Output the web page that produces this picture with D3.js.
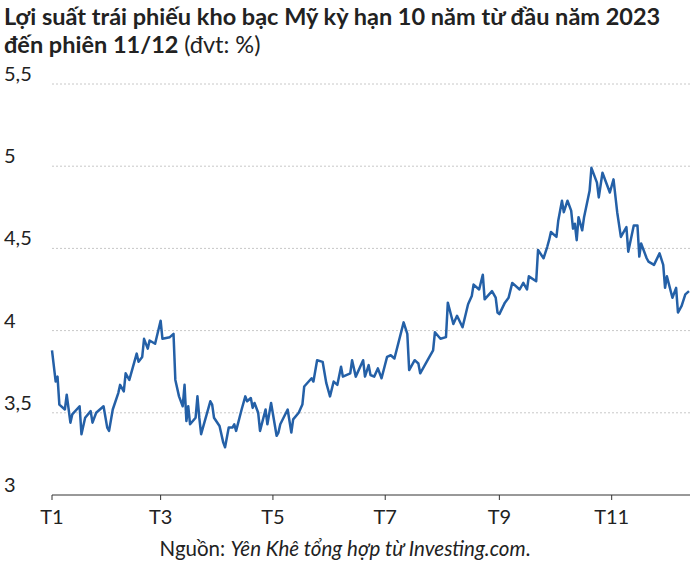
<!DOCTYPE html>
<html><head><meta charset="utf-8">
<script src="https://cdn.jsdelivr.net/npm/d3@7"></script>
<style>body{margin:0;background:#fff}text{font-family:Lato,"Noto Sans",sans-serif}</style>
</head><body>
<script>
// day of year 2023 (0 = Jan 1) and yield values
let days = [0,2,3,4,7,8,10,11,15,16,18,21,22,24,28,30,31,33,36,37,39,40,42,46,47,49,50,52,53,56,59,60,64,66,67,69,71,72,73,74,75,78,79,80,81,86,87,88,91,93,94,96,98,99,100,103,105,106,108,109,110,112,113,116,117,119,122,123,124,128,130,131,134,136,137,141,142,144,147,149,151,153,155,157,158,162,163,165,169,170,172,173,175,177,179,182,184,186,191,193,194,197,199,200,205,207,208,211,214,215,218,220,223,226,228,229,232,234,235,239,241,242,243,246,248,250,254,256,258,259,263,264,267,269,270,271,274,275,277,278,280,282,283,284,285,286,288,289,292,293,296,297,299,303,305,307,309,312,313,316,318,319,320,323,324,327,330,332,333,334,337,339,340,342,344,346]
let values = [3.88,3.69,3.72,3.55,3.52,3.61,3.44,3.49,3.54,3.37,3.47,3.51,3.44,3.50,3.54,3.41,3.39,3.52,3.62,3.67,3.63,3.74,3.70,3.86,3.81,3.84,3.95,3.89,3.94,3.92,4.06,3.95,3.96,3.98,3.70,3.60,3.54,3.67,3.45,3.54,3.43,3.47,3.60,3.47,3.37,3.57,3.55,3.47,3.42,3.32,3.29,3.41,3.41,3.43,3.39,3.52,3.60,3.57,3.59,3.53,3.56,3.50,3.39,3.52,3.43,3.56,3.36,3.38,3.43,3.52,3.38,3.46,3.50,3.55,3.66,3.71,3.69,3.82,3.81,3.68,3.60,3.69,3.67,3.78,3.72,3.74,3.82,3.72,3.82,3.72,3.79,3.73,3.72,3.77,3.71,3.84,3.85,3.83,4.05,3.98,3.76,3.82,3.80,3.74,3.84,3.88,3.99,3.95,3.96,4.17,4.04,4.09,4.02,4.16,4.21,4.28,4.25,4.34,4.19,4.24,4.20,4.11,4.10,4.17,4.20,4.29,4.25,4.29,4.25,4.33,4.30,4.49,4.44,4.51,4.55,4.60,4.57,4.67,4.79,4.72,4.79,4.73,4.62,4.65,4.55,4.69,4.61,4.69,4.85,4.99,4.90,4.81,4.96,4.84,4.92,4.72,4.57,4.63,4.48,4.64,4.64,4.45,4.53,4.44,4.42,4.40,4.47,4.40,4.26,4.33,4.20,4.26,4.11,4.15,4.22,4.24,4.23]
let yTicks = [3, 3.5, 4, 4.5, 5, 5.5]
let monthTicks = [0, 2, 4, 6, 8, 10]
let monthLabels = ['T1', 'T3', 'T5', 'T7', 'T9', 'T11']

let start = new Date(2023, 0, 1)
let data = days.map((d, i) => ({date: d3.timeDay.offset(start, d), v: values[i]}))

let svg = d3.select('body').append('svg').attr('width', 700).attr('height', 564)
let x = d3.scaleTime().domain([start, d3.timeDay.offset(start, 346)]).range([52, 689])
let y = d3.scaleLinear().domain([3, 5.5]).range([495, 84])
let fmt = v => String(v).replace('.', ',')

svg.append('text').attr('x', 4).attr('y', 25).attr('font-size', 23.5).attr('font-weight', 'bold')
    .attr('fill', '#222').text('Lợi suất trái phiếu kho bạc Mỹ kỳ hạn 10 năm từ đầu năm 2023')
let t2 = svg.append('text').attr('x', 4).attr('y', 53).attr('font-size', 23.5).attr('fill', '#222')
t2.append('tspan').attr('font-weight', 'bold').text('đến phiên 11/12 ')
t2.append('tspan').text('(đvt: %)')

svg.selectAll('.grid').data(yTicks.slice(1)).enter().append('line')
    .attr('x1', 52).attr('x2', 690).attr('y1', d => y(d)).attr('y2', d => y(d))
    .attr('stroke', '#c8c8c8').attr('stroke-dasharray', '2,2')
svg.selectAll('.yl').data(yTicks).enter().append('text')
    .attr('x', 4).attr('y', d => y(d) - 3).attr('font-size', 20).attr('fill', '#222').text(fmt)

svg.append('line').attr('x1', 52).attr('x2', 690).attr('y1', 495).attr('y2', 495).attr('stroke', '#333')
let mdates = monthTicks.map(m => new Date(2023, m, 1))
svg.selectAll('.tk').data(mdates).enter().append('line')
    .attr('x1', d => x(d)).attr('x2', d => x(d)).attr('y1', 495).attr('y2', 500).attr('stroke', '#333')
svg.selectAll('.xl').data(mdates).enter().append('text')
    .attr('x', d => x(d)).attr('y', 524).attr('text-anchor', 'middle').attr('font-size', 20)
    .attr('fill', '#222').text((d, i) => monthLabels[i])

svg.append('path').datum(data)
    .attr('d', d3.line().x(d => x(d.date)).y(d => y(d.v)))
    .attr('fill', 'none').attr('stroke', '#2460a7').attr('stroke-width', 2.5).attr('stroke-linejoin', 'round')

let src = svg.append('text').attr('x', 345).attr('y', 556).attr('text-anchor', 'middle')
    .attr('font-size', 20.5).attr('fill', '#222')
src.append('tspan').text('Nguồn: ')
src.append('tspan').attr('font-style', 'italic').text('Yên Khê tổng hợp từ Investing.com')
src.append('tspan').text('.')
</script>
</body></html>
